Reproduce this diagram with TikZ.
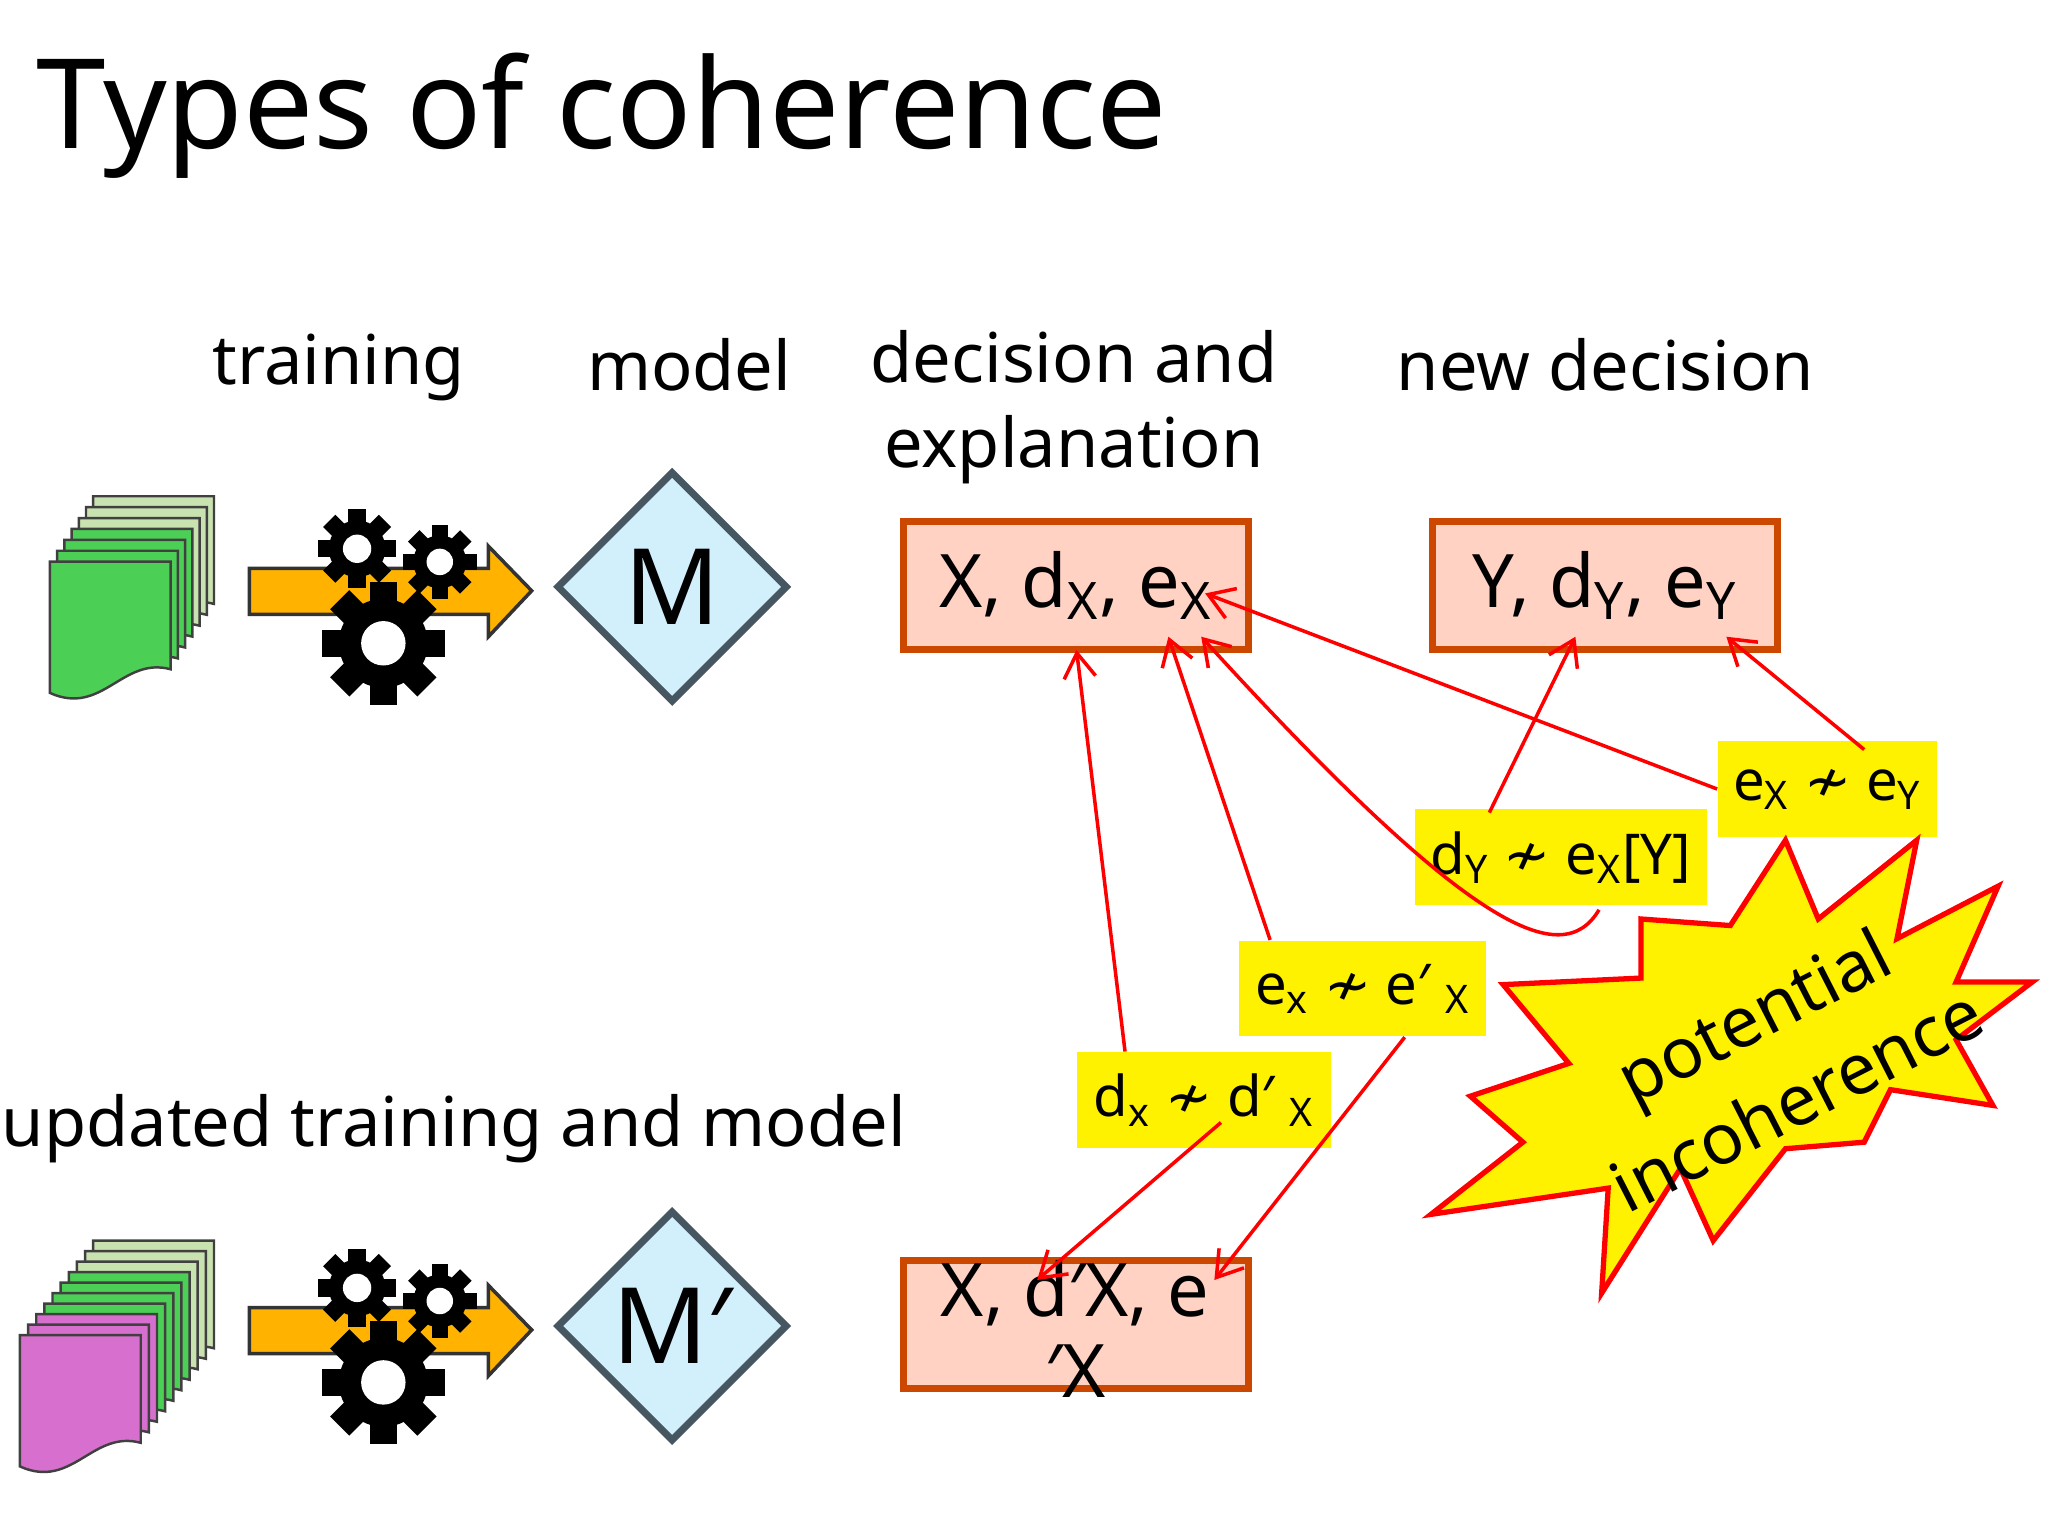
\documentclass[tikz,border=0pt]{standalone}
\usepackage{fontspec}
\setmainfont{Noto Sans}
\newfontfamily\symf{DejaVu Sans}
\usetikzlibrary{arrows.meta,shapes.geometric}
\newcommand{\nsim}{{\symf ≁}}
\definecolor{docgreen}{HTML}{4CCF55}
\definecolor{docpale}{HTML}{C8E2B0}
\definecolor{docpink}{HTML}{D66FCE}
\tikzset{
  x=0.013128cm,y=-0.013128cm,
  hdr/.style={font=\fontsize{19.5}{24}\selectfont,align=center},
  dbox/.style={draw=orange!70!red!80!black,line width=2pt,fill=orange!18!pink!60,minimum width=263*0.013128cm,minimum height=98*0.013128cm,font=\fontsize{21}{22}\selectfont,inner sep=0pt},
  ylab/.style={fill=yellow,font=\fontsize{16}{18}\selectfont,inner sep=0pt,minimum height=73*0.013128cm},
  dia/.style={diamond,draw=cyan!30!black,line width=2pt,fill=cyan!18,minimum width=176*0.013128cm,minimum height=176*0.013128cm,inner sep=0pt,font=\fontsize{30}{30}\selectfont},
  rar/.style={red,line width=1pt,-{Straight Barb[length=7pt,width=9pt]}},
  sheet/.style={draw=black!75,line width=0.7pt},
  gear/.pic={\fill[black] (0,0) circle (0.72); \foreach \a in {0,45,...,315}{\fill[black,rotate=\a] (-0.22,0.6) rectangle (0.22,1);} \fill[white] (0,0) circle (0.36);}
}
\def\sheetpath{(0,0) -- (92,0) -- (92,82) .. controls (55,72) and (40,118) .. (0,100) -- cycle}
\begin{document}
\begin{tikzpicture}
\useasboundingbox (0,0) rectangle (1560,1170);
\node[anchor=west,font=\fontsize{35.5}{40}\selectfont] (title) at (18,88) {Types of coherence};
\node[hdr] (h1) at (258,280) {training};
\node[hdr] (h2) at (525,278) {model};
\node[hdr] (h3) at (818,310) {decision and\\explanation};
\node[hdr] (h4) at (1223,278) {new decision};
\node[hdr,anchor=west] (h5) at (-8,860) {updated training and model};
% documents upper
\foreach \k in {0,...,6}{
  \pgfmathsetmacro{\kk}{\k}
  \ifnum\k<3 \def\col{docpale}\else\def\col{docgreen}\fi
  \draw[sheet,fill=\col,shift={(71-5.5*\kk,378+8.3*\kk)}] \sheetpath;}
% documents lower
\foreach \k in {0,...,9}{
  \pgfmathsetmacro{\kk}{\k}
  \ifnum\k<3 \def\col{docpale}\else\ifnum\k<7 \def\col{docgreen}\else\def\col{docpink}\fi\fi
  \draw[sheet,fill=\col,shift={(71-6.2*\kk,945+8*\kk)}] \sheetpath;}
% arrows and gears
\foreach \yy in {0,563}{
 \begin{scope}[shift={(0,\yy)}]
 \draw[fill=orange!60!yellow,draw=black!80,line width=1pt] (190,433) -- (372,433) -- (372,416) -- (405,450) -- (372,485) -- (372,468) -- (190,468) -- cycle;
 \pic[scale=30] at (272,418) {gear};
 \pic[scale=28] at (335,428) {gear};
 \pic[scale=47] at (292,490) {gear};
 \end{scope}}
\node[dia] (M) at (512,447) {M};
\node[dia] (M2) at (512,1010) {M′};
\node[dbox] (b1) at (819.5,446) {X, d\textsubscript{X}, e\textsubscript{X}};
\node[dbox] (b2) at (1222.5,446) {Y, d\textsubscript{Y}, e\textsubscript{Y}};
\node[dbox] (b3) at (819.5,1009) {};
\node[font=\fontsize{21}{23}\selectfont,align=center] (b3t) at (819,1012) {X, d′X, e\\′X};
\node[ylab,minimum width=222*0.013128cm] (l1) at (1189,653) {d\textsubscript{Y} \nsim{} e\textsubscript{X}[Y]};
\node[ylab,minimum width=167*0.013128cm] (l2) at (1392,601) {e\textsubscript{X} \nsim{} e\textsubscript{Y}};
\node[ylab,minimum width=188*0.013128cm] (l3) at (1038,753) {e\textsubscript{x} \nsim{} e′ \textsubscript{X}};
\node[ylab,minimum width=193*0.013128cm] (l4) at (917,838) {d\textsubscript{x} \nsim{} d′ \textsubscript{X}};
% star
\draw[red,line width=1.5pt,fill=yellow] (1145,750)--(1250,745)--(1250,700)--(1318,705)--(1360,640)--(1385,700)--(1460,640)--(1445,715)--(1522,675)--(1490,748)--(1548,748)--(1490,792)--(1518,842)--(1440,830)--(1420,870)--(1360,875)--(1305,945)--(1280,890)--(1220,985)--(1225,905)--(1090,925)--(1160,870)--(1120,835)--(1195,810)--cycle;
\node[rotate=27,font=\fontsize{20}{27}\selectfont,align=center] (star) at (1352,805) {potential\\incoherence};
% red arrows
\coordinate (c1) at (820,495); \coordinate (c2) at (790,975);
\coordinate (c3) at (890,485); \coordinate (c4) at (925,975);
\coordinate (c5) at (915,485); \coordinate (c6) at (1200,485);
\coordinate (c7) at (918,452); \coordinate (c8) at (1315,485);
\draw[rar] (l4.north west)++(37,0) -- (c1);
\draw[rar] (l4.south)++(13,-20) -- (c2);
\draw[rar] (l3.north west)++(24,0) -- (c3);
\draw[rar] (l3.south)++(32,0) -- (c4);
\draw[rar] (1218,693) .. controls (1190,740) and (1120,710) .. (c5);
\draw[rar] (l1.north west)++(57,3) -- (c6);
\draw[rar] (l2.west) -- (c7);
\draw[rar] (l2.north)++(28,7) -- (c8);
\end{tikzpicture}
\end{document}
